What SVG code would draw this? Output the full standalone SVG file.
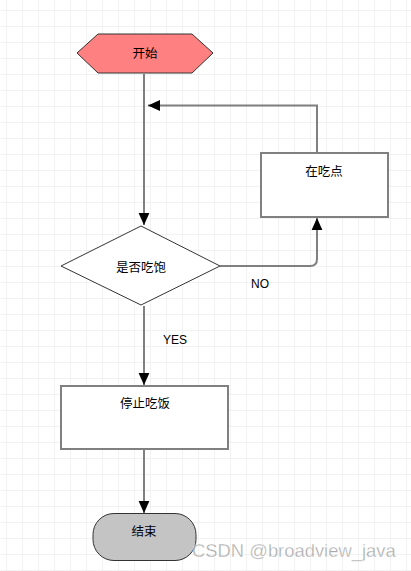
<svg xmlns="http://www.w3.org/2000/svg" width="411" height="571" viewBox="0 0 411 571">
<defs>
<pattern id="grid" x="6" y="10" width="16" height="16" patternUnits="userSpaceOnUse">
<path d="M0 0H16M0 0V16" fill="none" stroke="#e6e6e6" stroke-width="1"/>
</pattern>
<marker id="arr" markerUnits="userSpaceOnUse" markerWidth="12" markerHeight="12" viewBox="0 0 10 10" refX="10" refY="5" orient="auto">
<path d="M0 0.5L10 5L0 9.5Z" fill="#000"/>
</marker>
<style>
.cn{font-family:"Noto Sans CJK SC","Liberation Sans",sans-serif;font-size:12.5px;fill:#000;text-anchor:middle;dominant-baseline:central}
.lb{font-family:"Liberation Sans",Arial,sans-serif;font-size:12px;fill:#000;text-anchor:middle;dominant-baseline:central}
.box{fill:#fff;stroke:#808080;stroke-width:2}
.edge{fill:none;stroke:#808080;stroke-width:2}
</style>
</defs>
<rect width="411" height="571" fill="#fff"/>
<rect x="0.5" y="0.5" width="411" height="571" fill="url(#grid)"/>
<g id="connectors">
<path class="edge" d="M144 74V225" marker-end="url(#arr)"/>
<path class="edge" d="M317 153V105.5H148" marker-end="url(#arr)"/>
<path class="edge" d="M220 266H310Q317 266 317 259V218" marker-end="url(#arr)"/>
<path class="edge" d="M144 306V385" marker-end="url(#arr)"/>
<path class="edge" d="M144 449V513" marker-end="url(#arr)"/>
</g>
<g id="start">
<polygon points="77,53 98,34 192,34 213,53 192,73 98,73" fill="#ff8080" stroke="#333" stroke-width="1"/>
<text class="cn" x="145" y="52.5">开始</text>
</g>
<g id="eat">
<rect class="box" x="261" y="153" width="127" height="64"/>
<text class="cn" x="324" y="170">在吃点</text>
</g>
<g id="decision">
<polygon points="141,226 220,266 141,305 61,266" fill="#fff" stroke="#333" stroke-width="1"/>
<text class="cn" x="141" y="266">是否吃饱</text>
</g>
<g id="labels">
<text class="lb" x="260" y="284">NO</text>
<text class="lb" x="175" y="340">YES</text>
</g>
<g id="stop">
<rect class="box" x="61" y="386" width="167" height="63"/>
<text class="cn" x="145" y="402">停止吃饭</text>
</g>
<g id="end">
<rect x="93" y="513.5" width="103" height="47" rx="21" ry="21" fill="#c4c4c4" stroke="#333" stroke-width="1"/>
<text class="cn" x="144" y="530">结束</text>
</g>
<text x="192" y="557" font-family="'Liberation Sans',Arial,sans-serif" font-size="18.4" fill="#9c9c9c" fill-opacity="0.85" stroke="#fff" stroke-width="0.3">CSDN @broadview_java</text>
</svg>
